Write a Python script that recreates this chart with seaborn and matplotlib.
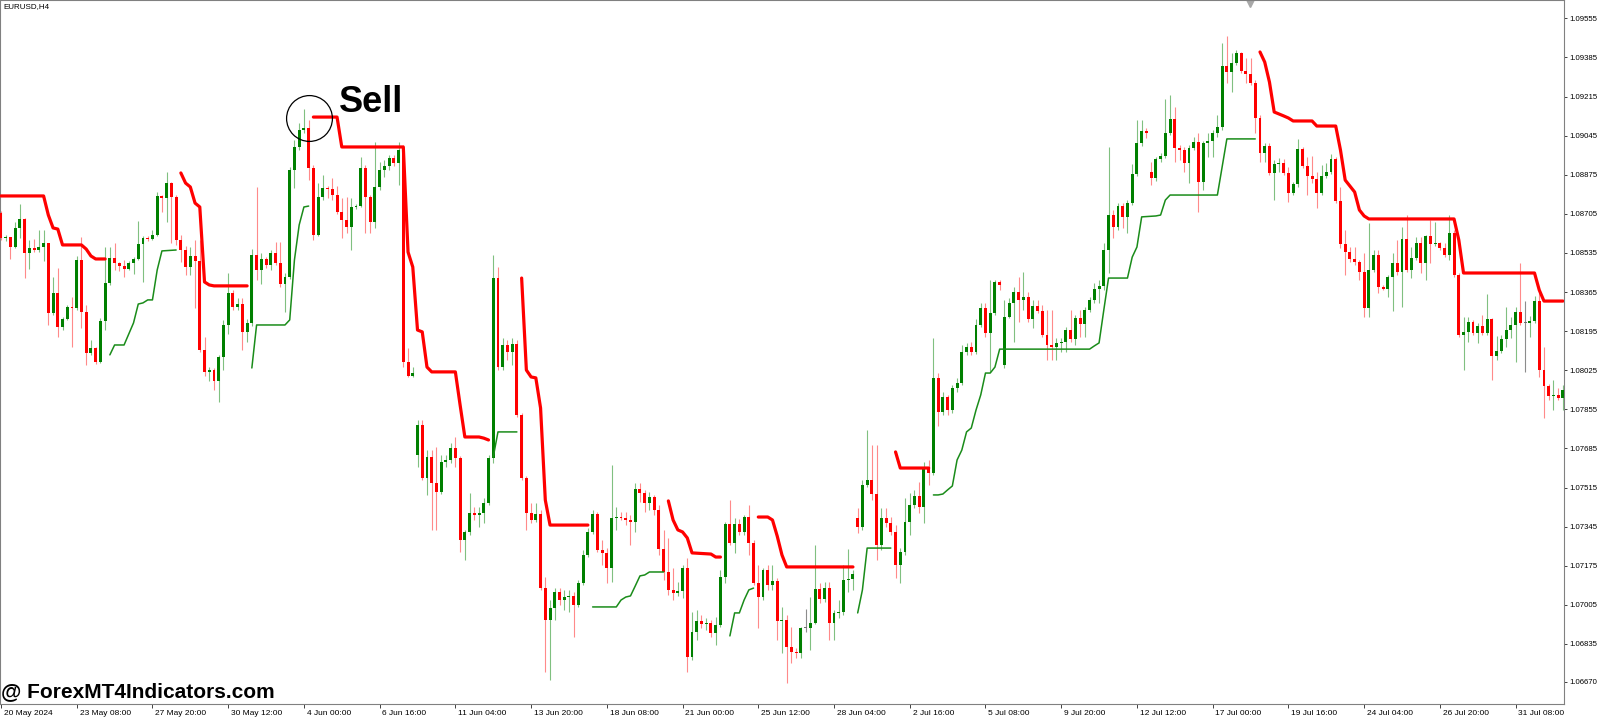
import numpy as np
import pandas as pd
import matplotlib
matplotlib.use("Agg")
import matplotlib.pyplot as plt
import matplotlib.transforms as mtransforms
import seaborn as sns

sns.set_theme(style="white")
plt.rcParams['font.family'] = ['Liberation Sans', 'DejaVu Sans']

# EURUSD H4, bar 0 = 20 May 2024 00:00, open of a bar = previous close except gaps
first_open = 1.08709
gap_opens = {88: 1.07657, 181: 1.07383, 212: 1.08048, 243: 1.08887}

closes = [
    1.08600, 1.08605, 1.08561, 1.08644, 1.08683, 1.08535, 1.08557, 1.08548, 1.08561, 1.08578,
    1.08274, 1.08361, 1.08213, 1.08248, 1.08300, 1.08296, 1.08505, 1.08278, 1.08100, 1.08122,
    1.08061, 1.08239, 1.08405, 1.08513, 1.08492, 1.08478, 1.08465, 1.08492, 1.08509, 1.08574,
    1.08600, 1.08596, 1.08613, 1.08783, 1.08774, 1.08839, 1.08778, 1.08592, 1.08548, 1.08474,
    1.08522, 1.08500, 1.08113, 1.08018, 1.08026, 1.07978, 1.08083, 1.08222, 1.08361, 1.08300,
    1.08313, 1.08192, 1.08231, 1.08526, 1.08461, 1.08509, 1.08483, 1.08535, 1.08492, 1.08400,
    1.08431, 1.08896, 1.08996, 1.09070, 1.09078, 1.08905, 1.08613, 1.08778, 1.08818, 1.08813,
    1.08787, 1.08713, 1.08678, 1.08648, 1.08735, 1.08739, 1.08905, 1.08778, 1.08670, 1.08822,
    1.08896, 1.08913, 1.08948, 1.08926, 1.08983, 1.08061, 1.08000, 1.08013, 1.07787, 1.07557,
    1.07648, 1.07535, 1.07496, 1.07626, 1.07635, 1.07687, 1.07644, 1.07287, 1.07322, 1.07405,
    1.07396, 1.07405, 1.07448, 1.07644, 1.08426, 1.08039, 1.08135, 1.08105, 1.08139, 1.07831,
    1.07557, 1.07405, 1.07374, 1.07400, 1.07078, 1.06939, 1.06992, 1.07061, 1.07026, 1.07039,
    1.07044, 1.07005, 1.07100, 1.07222, 1.07322, 1.07400, 1.07244, 1.07231, 1.07165, 1.07383,
    1.07387, 1.07383, 1.07374, 1.07365, 1.07509, 1.07492, 1.07448, 1.07474, 1.07418, 1.07248,
    1.07148, 1.07070, 1.07057, 1.07065, 1.07165, 1.06778, 1.06887, 1.06935, 1.06922, 1.06926,
    1.06883, 1.06918, 1.07126, 1.07357, 1.07274, 1.07357, 1.07322, 1.07387, 1.07274, 1.07100,
    1.07039, 1.07157, 1.07092, 1.07109, 1.06935, 1.06939, 1.06822, 1.06800, 1.06796, 1.06905,
    1.06905, 1.06926, 1.07074, 1.07031, 1.07078, 1.06926, 1.06970, 1.06974, 1.07113, 1.07117,
    1.07139, 1.07344, 1.07526, 1.07548, 1.07487, 1.07265, 1.07383, 1.07361, 1.07322, 1.07178,
    1.07235, 1.07365, 1.07439, 1.07478, 1.07431, 1.07600, 1.07578, 1.07992, 1.07844, 1.07909,
    1.07852, 1.07948, 1.07970, 1.08105, 1.08126, 1.08105, 1.08222, 1.08296, 1.08187, 1.08274,
    1.08409, 1.08396, 1.08257, 1.08318, 1.08365, 1.08331, 1.08344, 1.08248, 1.08305, 1.08283,
    1.08178, 1.08135, 1.08126, 1.08144, 1.08148, 1.08200, 1.08161, 1.08252, 1.08226, 1.08287,
    1.08331, 1.08378, 1.08392, 1.08548, 1.08700, 1.08648, 1.08739, 1.08692, 1.08752, 1.08878,
    1.09013, 1.09065, 1.09057, 1.08861, 1.08944, 1.08957, 1.09057, 1.09118, 1.08992, 1.08983,
    1.08926, 1.08992, 1.09018, 1.08844, 1.09013, 1.09022, 1.09057, 1.09083, 1.09348, 1.09322,
    1.09361, 1.09405, 1.09326, 1.09313, 1.09274, 1.09122, 1.08970, 1.09000, 1.08883, 1.08922,
    1.08926, 1.08883, 1.08796, 1.08835, 1.08987, 1.08913, 1.08870, 1.08857, 1.08796, 1.08870,
    1.08887, 1.08944, 1.08761, 1.08574, 1.08539, 1.08509, 1.08496, 1.08452, 1.08296, 1.08461,
    1.08526, 1.08387, 1.08378, 1.08431, 1.08492, 1.08452, 1.08596, 1.08461, 1.08513, 1.08578,
    1.08492, 1.08609, 1.08574, 1.08578, 1.08557, 1.08526, 1.08622, 1.08439, 1.08178, 1.08192,
    1.08235, 1.08187, 1.08218, 1.08187, 1.08248, 1.08087, 1.08109, 1.08161, 1.08200, 1.08222,
    1.08278, 1.08231, 1.08231, 1.08239, 1.08326, 1.08026, 1.07957, 1.07913, 1.07918, 1.07905,
    1.07939,
]

highs = [
    1.08718, 1.08613, 1.08605, 1.08670, 1.08748, 1.08687, 1.08592, 1.08596, 1.08635, 1.08635,
    1.08578, 1.08431, 1.08470, 1.08257, 1.08309, 1.08344, 1.08522, 1.08605, 1.08309, 1.08157,
    1.08126, 1.08252, 1.08561, 1.08561, 1.08578, 1.08496, 1.08505, 1.08500, 1.08517, 1.08674,
    1.08609, 1.08609, 1.08635, 1.08800, 1.08787, 1.08887, 1.08844, 1.08787, 1.08613, 1.08565,
    1.08561, 1.08592, 1.08592, 1.08170, 1.08039, 1.08035, 1.08092, 1.08244, 1.08448, 1.08374,
    1.08339, 1.08339, 1.08248, 1.08552, 1.08822, 1.08535, 1.08517, 1.08548, 1.08583, 1.08583,
    1.08448, 1.08909, 1.09026, 1.09100, 1.09161, 1.09113, 1.08918, 1.08839, 1.08874, 1.08826,
    1.08861, 1.08826, 1.08774, 1.08778, 1.08774, 1.08748, 1.08952, 1.08918, 1.08787, 1.09018,
    1.08931, 1.08939, 1.08961, 1.08961, 1.09018, 1.09005, 1.08122, 1.08039, 1.07809, 1.07809,
    1.07678, 1.07678, 1.07692, 1.07657, 1.07657, 1.07709, 1.07735, 1.07652, 1.07331, 1.07492,
    1.07431, 1.07431, 1.07470, 1.07657, 1.08526, 1.08474, 1.08165, 1.08157, 1.08165, 1.08157,
    1.07839, 1.07565, 1.07448, 1.07448, 1.07418, 1.07126, 1.07026, 1.07078, 1.07078, 1.07070,
    1.07070, 1.07061, 1.07113, 1.07244, 1.07339, 1.07418, 1.07409, 1.07287, 1.07252, 1.07613,
    1.07431, 1.07409, 1.07409, 1.07396, 1.07535, 1.07535, 1.07505, 1.07496, 1.07483, 1.07439,
    1.07331, 1.07296, 1.07165, 1.07105, 1.07178, 1.07209, 1.06974, 1.06983, 1.06961, 1.06948,
    1.06939, 1.06952, 1.07157, 1.07365, 1.07461, 1.07383, 1.07378, 1.07396, 1.07439, 1.07287,
    1.07178, 1.07165, 1.07178, 1.07178, 1.07122, 1.06996, 1.06961, 1.06909, 1.06818, 1.06909,
    1.06987, 1.07039, 1.07265, 1.07100, 1.07105, 1.07105, 1.06983, 1.07026, 1.07178, 1.07248,
    1.07157, 1.07426, 1.07548, 1.07765, 1.07700, 1.07700, 1.07426, 1.07426, 1.07387, 1.07352,
    1.07252, 1.07470, 1.07492, 1.07505, 1.07539, 1.07626, 1.07635, 1.08165, 1.08013, 1.07931,
    1.07918, 1.07961, 1.07992, 1.08135, 1.08144, 1.08148, 1.08248, 1.08318, 1.08318, 1.08418,
    1.08418, 1.08418, 1.08331, 1.08339, 1.08387, 1.08431, 1.08452, 1.08365, 1.08331, 1.08331,
    1.08309, 1.08287, 1.08287, 1.08165, 1.08165, 1.08213, 1.08287, 1.08265, 1.08287, 1.08300,
    1.08344, 1.08405, 1.08418, 1.08578, 1.08996, 1.08722, 1.08752, 1.08752, 1.08765, 1.08922,
    1.09113, 1.09113, 1.09078, 1.08931, 1.08952, 1.08970, 1.09205, 1.09222, 1.09170, 1.09005,
    1.08996, 1.09005, 1.09039, 1.09057, 1.09022, 1.09057, 1.09070, 1.09135, 1.09448, 1.09478,
    1.09405, 1.09418, 1.09409, 1.09383, 1.09383, 1.09287, 1.09135, 1.09013, 1.09013, 1.08939,
    1.08948, 1.08944, 1.08909, 1.08844, 1.09031, 1.08996, 1.08952, 1.08957, 1.08887, 1.08918,
    1.08926, 1.08965, 1.08952, 1.08822, 1.08635, 1.08561, 1.08561, 1.08505, 1.08535, 1.08665,
    1.08548, 1.08548, 1.08396, 1.08439, 1.08535, 1.08592, 1.08648, 1.08700, 1.08561, 1.08605,
    1.08605, 1.08613, 1.08678, 1.08670, 1.08583, 1.08578, 1.08700, 1.08635, 1.08448, 1.08257,
    1.08257, 1.08244, 1.08231, 1.08265, 1.08357, 1.08252, 1.08174, 1.08178, 1.08300, 1.08257,
    1.08300, 1.08492, 1.08326, 1.08261, 1.08348, 1.08374, 1.08126, 1.07965, 1.07983, 1.07948,
    1.07961,
]

lows = [
    1.08592, 1.08587, 1.08509, 1.08557, 1.08600, 1.08426, 1.08465, 1.08539, 1.08539, 1.08500,
    1.08222, 1.08265, 1.08170, 1.08200, 1.08244, 1.08126, 1.08287, 1.08209, 1.08048, 1.08092,
    1.08052, 1.08057, 1.08200, 1.08396, 1.08461, 1.08457, 1.08431, 1.08461, 1.08444, 1.08505,
    1.08409, 1.08587, 1.08592, 1.08609, 1.08713, 1.08670, 1.08578, 1.08570, 1.08496, 1.08439,
    1.08439, 1.08296, 1.08105, 1.08000, 1.07978, 1.07939, 1.07887, 1.08026, 1.08183, 1.08287,
    1.08287, 1.08113, 1.08148, 1.08218, 1.08418, 1.08400, 1.08470, 1.08461, 1.08483, 1.08387,
    1.08278, 1.08422, 1.08818, 1.08983, 1.09057, 1.08852, 1.08592, 1.08609, 1.08765, 1.08774,
    1.08765, 1.08705, 1.08600, 1.08622, 1.08548, 1.08726, 1.08735, 1.08622, 1.08622, 1.08644,
    1.08809, 1.08865, 1.08896, 1.08913, 1.08831, 1.08039, 1.07996, 1.07996, 1.07605, 1.07548,
    1.07483, 1.07331, 1.07331, 1.07487, 1.07605, 1.07622, 1.07605, 1.07235, 1.07200, 1.07309,
    1.07374, 1.07344, 1.07361, 1.07439, 1.07622, 1.08026, 1.08026, 1.08070, 1.08048, 1.07822,
    1.07548, 1.07331, 1.07361, 1.07365, 1.07070, 1.06713, 1.06678, 1.06939, 1.07005, 1.06983,
    1.06974, 1.06865, 1.06996, 1.07092, 1.07213, 1.07313, 1.07235, 1.07178, 1.07100, 1.07105,
    1.07331, 1.07374, 1.07352, 1.07265, 1.07322, 1.07452, 1.07409, 1.07418, 1.07396, 1.07222,
    1.07113, 1.07048, 1.07026, 1.07044, 1.07035, 1.06713, 1.06765, 1.06852, 1.06905, 1.06896,
    1.06865, 1.06831, 1.06909, 1.07100, 1.07265, 1.07231, 1.07309, 1.07309, 1.07222, 1.07092,
    1.06905, 1.07026, 1.07070, 1.07070, 1.06852, 1.06796, 1.06665, 1.06752, 1.06774, 1.06774,
    1.06887, 1.06809, 1.06922, 1.07013, 1.07018, 1.06852, 1.06852, 1.06948, 1.06961, 1.07061,
    1.07070, 1.07318, 1.07331, 1.07518, 1.07461, 1.07200, 1.07244, 1.07344, 1.07309, 1.07122,
    1.07100, 1.07222, 1.07309, 1.07426, 1.07405, 1.07361, 1.07526, 1.07570, 1.07783, 1.07831,
    1.07831, 1.07839, 1.07931, 1.07961, 1.08092, 1.08092, 1.08096, 1.08213, 1.08170, 1.08018,
    1.08265, 1.08374, 1.08035, 1.08252, 1.08148, 1.08235, 1.08287, 1.08235, 1.08209, 1.08274,
    1.08170, 1.08070, 1.08070, 1.08070, 1.08105, 1.08105, 1.08148, 1.08135, 1.08170, 1.08170,
    1.08278, 1.08318, 1.08318, 1.08374, 1.08448, 1.08600, 1.08635, 1.08644, 1.08622, 1.08744,
    1.08870, 1.09000, 1.09035, 1.08831, 1.08848, 1.08931, 1.08948, 1.09048, 1.08931, 1.08939,
    1.08887, 1.08839, 1.08983, 1.08713, 1.08809, 1.08952, 1.08952, 1.09039, 1.09070, 1.09274,
    1.09235, 1.09352, 1.09318, 1.09274, 1.09265, 1.09057, 1.08931, 1.08931, 1.08874, 1.08765,
    1.08887, 1.08874, 1.08757, 1.08787, 1.08822, 1.08905, 1.08787, 1.08839, 1.08731, 1.08787,
    1.08861, 1.08878, 1.08752, 1.08557, 1.08439, 1.08496, 1.08483, 1.08418, 1.08257, 1.08257,
    1.08452, 1.08361, 1.08374, 1.08344, 1.08283, 1.08439, 1.08300, 1.08452, 1.08426, 1.08505,
    1.08448, 1.08418, 1.08492, 1.08565, 1.08548, 1.08517, 1.08505, 1.08431, 1.08170, 1.08026,
    1.08148, 1.08178, 1.08144, 1.08178, 1.08178, 1.07983, 1.08070, 1.08100, 1.08126, 1.08165,
    1.08061, 1.08222, 1.08018, 1.08170, 1.08231, 1.07996, 1.07818, 1.07896, 1.07852, 1.07896,
    1.07852,
]

# trailing stop vertices (bar, price), one list per visible run
red_trail = [
    [(0, 1.08783), (9, 1.08783), (10, 1.08700), (11, 1.08644), (12, 1.08639), (13, 1.08570),
     (17, 1.08570), (18, 1.08552), (19, 1.08522), (20, 1.08509), (22, 1.08509)],
    [(38, 1.08883), (39, 1.08839), (40, 1.08822), (41, 1.08752), (42, 1.08735), (43, 1.08409),
     (44, 1.08396), (45, 1.08392), (52, 1.08392)],
    [(66, 1.09126), (71, 1.09126), (72, 1.08996), (85, 1.08996), (86, 1.08539), (87, 1.08474),
     (88, 1.08200), (89, 1.08192), (90, 1.08039), (91, 1.08018), (96, 1.08018), (97, 1.07874),
     (98, 1.07735), (101, 1.07735), (102, 1.07730), (103, 1.07722)],
    [(110, 1.08426), (111, 1.08026), (112, 1.07996), (113, 1.07992), (114, 1.07861),
     (115, 1.07461), (116, 1.07352), (124, 1.07352)],
    [(141, 1.07457), (142, 1.07374), (143, 1.07331), (144, 1.07322), (145, 1.07296),
     (146, 1.07231), (150, 1.07226), (151, 1.07213), (152, 1.07213)],
    [(160, 1.07387), (162, 1.07387), (163, 1.07374), (164, 1.07304), (165, 1.07222),
     (166, 1.07170), (180, 1.07170)],
    [(189, 1.07670), (190, 1.07600), (196, 1.07600)],
    [(266, 1.09409), (267, 1.09365), (268, 1.09278), (269, 1.09148), (271, 1.09131),
     (272, 1.09122), (273, 1.09109), (277, 1.09109), (278, 1.09087), (282, 1.09087),
     (283, 1.08983), (284, 1.08852), (285, 1.08826), (286, 1.08800), (287, 1.08722),
     (288, 1.08696), (289, 1.08683), (307, 1.08683), (308, 1.08592), (309, 1.08448),
     (324, 1.08448), (325, 1.08374), (326, 1.08326), (330, 1.08326)],
]

green_trail = [
    [(23, 1.08092), (24, 1.08135), (26, 1.08135), (27, 1.08183), (28, 1.08231), (29, 1.08313),
     (30, 1.08318), (31, 1.08331), (32, 1.08331), (33, 1.08461), (34, 1.08544), (37, 1.08548)],
    [(53, 1.08035), (54, 1.08222), (60, 1.08222), (61, 1.08244), (62, 1.08505), (63, 1.08657),
     (64, 1.08735), (65, 1.08739)],
    [(104, 1.07648), (105, 1.07757), (109, 1.07757)],
    [(125, 1.06996), (130, 1.06996), (131, 1.07026), (132, 1.07039), (133, 1.07044),
     (134, 1.07087), (135, 1.07131), (136, 1.07135), (137, 1.07148), (140, 1.07148)],
    [(154, 1.06870), (155, 1.06970), (156, 1.06970), (157, 1.07026), (158, 1.07070),
     (159, 1.07078)],
    [(181, 1.06970), (182, 1.07070), (183, 1.07252), (188, 1.07252)],
    [(197, 1.07483), (198, 1.07483), (199, 1.07487), (200, 1.07505), (201, 1.07522),
     (202, 1.07635), (203, 1.07678), (204, 1.07757), (205, 1.07774), (206, 1.07852),
     (207, 1.07918), (208, 1.08013), (209, 1.08013), (210, 1.08039), (211, 1.08117),
     (230, 1.08117), (231, 1.08131), (232, 1.08144), (233, 1.08287), (234, 1.08426),
     (238, 1.08426), (239, 1.08517), (240, 1.08561), (241, 1.08692), (244, 1.08696),
     (245, 1.08700), (246, 1.08765), (247, 1.08787), (257, 1.08787), (258, 1.08909),
     (259, 1.09031), (265, 1.09031)],
]

sell_bar, sell_price = 65.1, 1.09122

price_labels = ["1.09555", "1.09385", "1.09215", "1.09045", "1.08875", "1.08705",
                "1.08535", "1.08365", "1.08195", "1.08025", "1.07855", "1.07685",
                "1.07515", "1.07345", "1.07175", "1.07005", "1.06835", "1.06670"]

time_labels = ["20 May 2024", "23 May 08:00", "27 May 20:00", "30 May 12:00", "4 Jun 00:00",
               "6 Jun 16:00", "11 Jun 04:00", "13 Jun 20:00", "18 Jun 08:00", "21 Jun 00:00",
               "25 Jun 12:00", "28 Jun 04:00", "2 Jul 16:00", "5 Jul 08:00", "9 Jul 20:00",
               "12 Jul 12:00", "17 Jul 00:00", "19 Jul 16:00", "24 Jul 04:00", "26 Jul 20:00",
               "31 Jul 08:00"]
time_step = 16


def trail_frame(segments):
    rows = []
    for k, seg in enumerate(segments):
        for b, p in seg:
            rows.append((k, b, p))
    return pd.DataFrame(rows, columns=["seg", "bar", "price"])


fig = plt.figure(figsize=(16, 7.17), dpi=100)
ax = fig.add_axes([0, 13 / 717, 1564 / 1600, 704 / 717])

#candles
n = len(closes)
x = np.arange(n)
c = np.array(closes)
o = np.concatenate([[first_open], c[:-1]])
for b, v in gap_opens.items():
    o[b] = v
h = np.maximum(np.array(highs), np.maximum(o, c))
l = np.minimum(np.array(lows), np.minimum(o, c))
up = c > o
down = c < o
wick_col = np.where(up, "#80c080", np.where(down, "#ff8a8a", "#8c8c8c"))
body_col = np.where(up, "#008000", np.where(down, "#ff0000", "#707070"))

ax.vlines(x, l, h, colors=wick_col, linewidth=0.8, zorder=2)
min_h = 0.00005
bot = np.minimum(o, c)
hgt = np.abs(c - o)
small = hgt < min_h
bot = np.where(small, (o + c) / 2 - min_h / 2, bot)
hgt = np.where(small, min_h, hgt)
ax.bar(x, hgt, bottom=bot, width=0.62, color=body_col, linewidth=0, zorder=3)

#trailing lines
sns.lineplot(data=trail_frame(green_trail), x="bar", y="price", units="seg",
             estimator=None, color="#1a8c1a", linewidth=1.1, ax=ax, legend=False, zorder=4)
sns.lineplot(data=trail_frame(red_trail), x="bar", y="price", units="seg",
             estimator=None, color="#ff0000", linewidth=2.3, ax=ax, legend=False, zorder=5)

#sell mark
ax.plot([sell_bar], [sell_price], marker="o", markersize=33, markerfacecolor="none",
        markeredgecolor="black", markeredgewidth=0.9, zorder=6)
ax.annotate("Sell", xy=(sell_bar, sell_price), xytext=(30, 6), textcoords="offset pixels",
            ha="left", va="baseline", fontsize=26, fontweight="bold", color="black", zorder=7)

ax.set_xlim(-0.211, 330.23)
ax.set_ylim(1.06574, 1.09635)
ax.set_xlabel("")
ax.set_ylabel("")
ax.grid(False)

for s in ax.spines.values():
    s.set_visible(True)
    s.set_color("#808080")
    s.set_linewidth(0.8)

ax.yaxis.tick_right()
ax.set_yticks([float(s) for s in price_labels])
ax.set_yticklabels(price_labels)
ax.tick_params(axis="y", right=True, left=False, length=2.2, width=0.7, color="#404040",
               labelsize=5.6, pad=1.5, labelcolor="black")
ax.set_xticks(np.arange(len(time_labels)) * time_step)
ax.set_xticklabels(time_labels)
ax.tick_params(axis="x", bottom=True, length=3, width=0.7, color="#404040",
               labelsize=6, pad=1, labelcolor="black")
offset = mtransforms.ScaledTranslation(2 / 72, 0, fig.dpi_scale_trans)
for lab in ax.get_xticklabels():
    lab.set_ha("left")
    lab.set_transform(lab.get_transform() + offset)

fig.text(3 / 1600, 1 - 3 / 717, "EURUSD,H4", ha="left", va="top", fontsize=5.8, color="black")
fig.text(1 / 1600, 1 - 692 / 717, "@ ForexMT4Indicators.com", ha="left", va="center",
         fontsize=15, fontweight="bold", color="black")
ax.plot([1250 / 1600], [1 - 3 / 717], marker="v", markersize=6, color="#a8a8a8",
        transform=fig.transFigure, clip_on=False)

fig.savefig("out.png", dpi=100)
